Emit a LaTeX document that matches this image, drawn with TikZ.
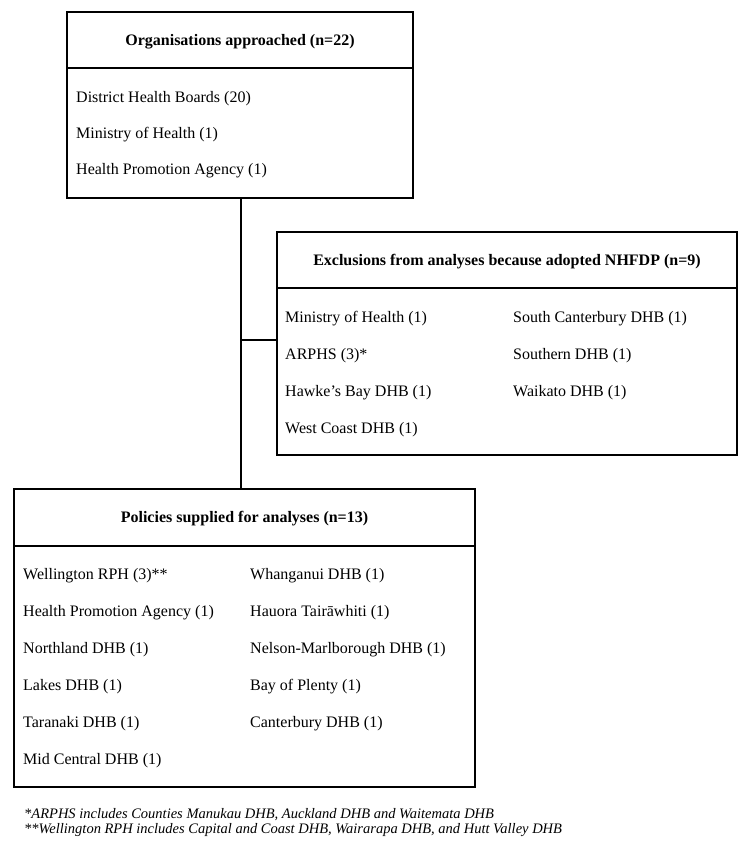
\documentclass[tikz,border=0pt]{standalone}
\usepackage{fontspec}
\setmainfont{Liberation Serif}
\begin{document}
\begin{tikzpicture}[x=1pt,y=-1pt,
  boxline/.style={draw=black, line width=2pt, inner sep=0pt},
  conn/.style={draw=black, line width=2pt},
  item/.style={anchor=west, inner sep=0pt, font=\fontsize{16}{18}\selectfont},
  head/.style={font=\fontsize{16}{18}\selectfont\bfseries, inner sep=0pt},
  foot/.style={anchor=west, inner sep=0pt, font=\fontsize{14.5}{16}\selectfont\itshape}]
\useasboundingbox[fill=white] (0,0) rectangle (752,850);

% Box 1
\node[boxline, minimum width=346pt, minimum height=56pt] (h1) at (240,40) {};
\node[boxline, minimum width=346pt, minimum height=130pt] (b1) at (240,133) {};
\node[head] (h1t) at ([yshift=-1.5pt]h1.center) {Organisations approached (n=22)};
\node[item] (i11) at (76,99) {District Health Boards (20)};
\node[item] (i12) at (76,135) {Ministry of Health (1)};
\node[item] (i13) at (76,171) {Health Promotion Agency (1)};

% Box 2
\node[boxline, minimum width=460pt, minimum height=56pt] (h2) at (507,260) {};
\node[boxline, minimum width=460pt, minimum height=167pt] (b2) at (507,371.5) {};
\node[head] (h2t) at ([yshift=-1.5pt]h2.center) {Exclusions from analyses because adopted NHFDP (n=9)};
\node[item] (i21) at (285,319) {Ministry of Health (1)};
\node[item] (i22) at (285,355.5) {ARPHS (3)*};
\node[item] (i23) at (285,392.5) {Hawke’s Bay DHB (1)};
\node[item] (i24) at (285,429.5) {West Coast DHB (1)};
\node[item] (i25) at (513,319) {South Canterbury DHB (1)};
\node[item] (i26) at (513,355.5) {Southern DHB (1)};
\node[item] (i27) at (513,392.5) {Waikato DHB (1)};

% Box 3
\node[boxline, minimum width=461pt, minimum height=57pt] (h3) at (244.5,517.5) {};
\node[boxline, minimum width=461pt, minimum height=241pt] (b3) at (244.5,666.5) {};
\node[head] (h3t) at ([yshift=-1.5pt]h3.center) {Policies supplied for analyses (n=13)};
\node[item] (i31) at (23,576) {Wellington RPH (3)**};
\node[item] (i32) at (23,613) {Health Promotion Agency (1)};
\node[item] (i33) at (23,650) {Northland DHB (1)};
\node[item] (i34) at (23,686.5) {Lakes DHB (1)};
\node[item] (i35) at (23,723.5) {Taranaki DHB (1)};
\node[item] (i36) at (23,760.5) {Mid Central DHB (1)};
\node[item] (i37) at (250,576) {Whanganui DHB (1)};
\node[item] (i38) at (250,613) {Hauora Tairāwhiti (1)};
\node[item] (i39) at (250,650) {Nelson-Marlborough DHB (1)};
\node[item] (i310) at (250,686.5) {Bay of Plenty (1)};
\node[item] (i311) at (250,723.5) {Canterbury DHB (1)};

% Connectors
\coordinate (top) at (240.5,198);
\coordinate (bot) at (top |- h3.north);
\coordinate (jn) at (240.5,339.5);
\draw[conn] (top) -- (bot);
\draw[conn] (jn) -- (jn -| h2.west);

% Footnotes
\node[foot] (f1) at (24,814.5) {*ARPHS includes Counties Manukau DHB, Auckland DHB and Waitemata DHB};
\node[foot] (f2) at (24,830.5) {**Wellington RPH includes Capital and Coast DHB, Wairarapa DHB, and Hutt Valley DHB};
\end{tikzpicture}
\end{document}
